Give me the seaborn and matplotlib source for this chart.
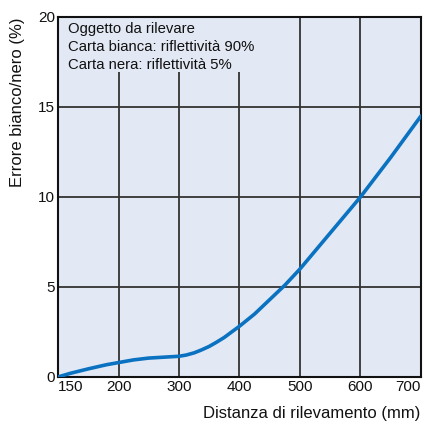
import numpy as np
import pandas as pd
import matplotlib
matplotlib.use("Agg")
import matplotlib.pyplot as plt
from matplotlib.patches import Rectangle
import seaborn as sns

# Detection distance (mm) vs. black/white error (%)
distance_mm = [150, 160, 175, 190, 200, 225, 250, 275, 300, 312, 325, 337, 350,
               362, 375, 387, 400, 425, 450, 475, 500, 525, 550, 575, 600,
               625, 650, 675, 700]
error_pct = [0.0, 0.2, 0.45, 0.68, 0.8, 0.95, 1.05, 1.1, 1.15, 1.22, 1.34, 1.5, 1.7,
             1.93, 2.2, 2.5, 2.82, 3.5, 4.3, 5.1, 6.0, 7.0, 8.0, 9.0, 10.0,
             11.1, 12.2, 13.35, 14.5]

x_ticks = [150, 200, 300, 400, 500, 600, 700]
y_ticks = [0, 5, 10, 15, 20]
note_lines = ["Oggetto da rilevare",
              "Carta bianca: riflettività 90%",
              "Carta nera: riflettività 5%"]

sns.set_theme(style="white")
plt.rcParams["font.family"] = ["Liberation Sans", "DejaVu Sans"]

# Tick positions are evenly spaced, so distances are placed on that index scale
tick_pos = np.arange(len(x_ticks))
df = pd.DataFrame({"pos": np.interp(distance_mm, x_ticks, tick_pos),
                   "err": error_pct})

bg = "#e2e9f4"
fig = plt.figure(figsize=(4.25, 4.25), dpi=100)
ax = fig.add_axes([0.1365, 0.113, 0.854, 0.847])
ax.set_facecolor(bg)

sns.lineplot(data=df, x="pos", y="err", ax=ax, color="#0a72c0", linewidth=2.6,
             zorder=4)
ax.lines[-1].set_solid_joinstyle("round")

ax.set_xlim(tick_pos[0], tick_pos[-1])
ax.set_ylim(0, 20)
ax.set_xticks(tick_pos)
ax.set_xticklabels([str(v) for v in x_ticks], fontsize=11)
ax.set_yticks(y_ticks)
ax.set_yticklabels([str(v) for v in y_ticks], fontsize=11)
labels = ax.get_xticklabels()
labels[0].set_horizontalalignment("left")
labels[-1].set_horizontalalignment("right")
ax.tick_params(axis="both", length=0, pad=2, colors="#111111")

for p in tick_pos[1:-1]:
    ax.axvline(p, color="#333333", linewidth=1.3, zorder=1)
for v in y_ticks[1:-1]:
    ax.axhline(v, color="#333333", linewidth=1.3, zorder=1)

for s in ax.spines.values():
    s.set_color("#111111")
    s.set_linewidth(1.5)

ax.set_xlabel("")
ax.set_ylabel("")
fig.text(0.99, 0.028, "Distanza di rilevamento (mm)", ha="right", va="center",
         fontsize=12, color="#111111")
fig.text(0.042, 0.76, "Errore bianco/nero (%)", rotation=90, ha="center",
         va="center", fontsize=12, color="#111111")

# Note panel that hides the grid behind the text
ax.add_patch(Rectangle((0.0, 0.847), 0.584, 0.15, transform=ax.transAxes,
                       facecolor=bg, edgecolor="none", zorder=2))
for i, line in enumerate(note_lines):
    ax.text(0.0265, 0.9556 - i * 0.0505, line, transform=ax.transAxes,
            ha="left", va="baseline", fontsize=10.7, color="#111111", zorder=3)

fig.savefig("out.png", dpi=100)
